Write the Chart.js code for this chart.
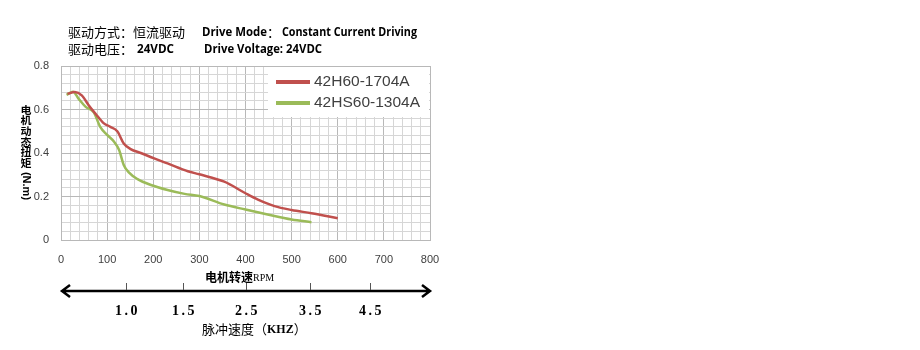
<!DOCTYPE html>
<html>
<head>
<meta charset="utf-8">
<script src="https://cdn.jsdelivr.net/npm/chart.js@4.4.0/dist/chart.umd.min.js"></script>
<style>
  html, body { margin: 0; padding: 0; background: #fff; }
  #wrap { width: 920px; height: 350px; }
</style>
</head>
<body>
<div id="wrap"><canvas id="torqueChart" width="920" height="350"></canvas></div>
<script>
// speed (rpm) and torque (N.m)
const redName = "42H60-1704A";
const redRpm = [14, 30, 45, 60, 75, 93, 107, 122, 136, 151, 173, 202, 231, 275, 300, 354, 400, 427, 463, 500, 543, 600];
const redTorque = [0.672, 0.68, 0.665, 0.62, 0.58, 0.536, 0.52, 0.50, 0.444, 0.418, 0.40, 0.375, 0.352, 0.316, 0.302, 0.268, 0.215, 0.186, 0.156, 0.138, 0.123, 0.10];

const greenName = "42HS60-1304A";
const greenRpm = [12, 26, 38, 53, 71, 85, 100, 115, 126, 136, 147, 166, 195, 231, 268, 300, 354, 400, 448, 500, 543];
const greenTorque = [0.667, 0.682, 0.65, 0.613, 0.587, 0.52, 0.483, 0.452, 0.414, 0.345, 0.311, 0.28, 0.253, 0.23, 0.212, 0.202, 0.163, 0.14, 0.117, 0.094, 0.082];

// lower pulse-speed axis: where each kHz mark sits on the rpm scale
const pulseLabels = ["1.0", "1.5", "2.5", "3.5", "4.5"];
const pulseRpm = [142, 265, 400, 539, 671];

// header pieces: text, left x, width, kind
const titleLines = [
  [["驱动方式：恒流驱动", 68, 120, "cn"], ["Drive Mode", 202, 65, "en"], ["：", 267, 13, "cn"], ["Constant Current Driving", 282, 135, "en"]],
  [["驱动电压：", 68, 67, "cn"], ["24VDC", 137, 37, "en"], ["Drive Voltage: 24VDC", 204, 118, "en"]]
];

function toPoints(xs, ys) {
  return xs.map((x, i) => ({ x: x, y: ys[i] }));
}

const extras = {
  id: "extras",
  afterDraw(chart) {
    const ctx = chart.ctx;
    const xs = chart.scales.x;
    const area = chart.chartArea;
    ctx.save();

    // header text
    ctx.fillStyle = "#000";
    ctx.textBaseline = "middle";
    ctx.textAlign = "left";
    titleLines.forEach((line, li) => {
      const y = 32 + li * 17;
      line.forEach(([txt, x, w, kind]) => {
        ctx.font = kind === "cn" ? "13px 'Noto Sans CJK SC'" : "bold 13px 'Open Sans'";
        ctx.fillText(txt, x, y, w);
      });
    });

    // y axis title: stacked chars then rotated (N.m)
    ctx.textAlign = "center";
    const cn = "电机动态扭矩";
    for (let i = 0; i < cn.length; i++) {
      ctx.save();
      ctx.translate(26, 110 + i * 10.6);
      ctx.scale(1, 0.93);
      ctx.font = "bold 11px 'Noto Sans CJK SC'";
      ctx.fillText(cn[i], 0, 0);
      ctx.restore();
    }
    ctx.save();
    ctx.translate(26, 186);
    ctx.rotate(Math.PI / 2);
    ctx.font = "bold 11px 'Liberation Sans'";
    ctx.fillText("(N.m)", 0, 0);
    ctx.restore();

    // legend box inside plot
    ctx.fillStyle = "#fff";
    ctx.fillRect(268, area.top + 1, area.right - 269, 50);
    [[redName, "#c0504d", 82], [greenName, "#9bbb59", 103]].forEach(([name, col, y]) => {
      ctx.strokeStyle = col;
      ctx.lineWidth = 4;
      ctx.beginPath();
      ctx.moveTo(276, y);
      ctx.lineTo(310, y);
      ctx.stroke();
      ctx.fillStyle = "#404040";
      ctx.font = "15.5px 'Liberation Sans'";
      ctx.textAlign = "left";
      ctx.fillText(name, 314, y);
    });

    // rpm caption
    ctx.fillStyle = "#000";
    ctx.textAlign = "left";
    ctx.font = "bold 12px 'Noto Sans CJK SC'";
    ctx.fillText("电机转速", 205, 277);
    const w = ctx.measureText("电机转速").width;
    ctx.font = "10px 'Liberation Serif'";
    ctx.fillText("RPM", 205 + w, 278);

    // double arrow
    const x0 = xs.getPixelForValue(0) + 1;
    const x1 = xs.getPixelForValue(800);
    const ay = 291;
    ctx.strokeStyle = "#000";
    ctx.lineWidth = 2.5;
    ctx.beginPath();
    ctx.moveTo(x0, ay);
    ctx.lineTo(x1, ay);
    ctx.moveTo(x0 + 8, ay - 6);
    ctx.lineTo(x0, ay);
    ctx.lineTo(x0 + 8, ay + 6);
    ctx.moveTo(x1 - 8, ay - 6);
    ctx.lineTo(x1, ay);
    ctx.lineTo(x1 - 8, ay + 6);
    ctx.stroke();

    ctx.lineWidth = 1;
    ctx.strokeStyle = "#555";
    ctx.font = "bold 14px 'Liberation Serif'";
    ctx.textAlign = "center";
    ctx.fillStyle = "#000";
    if ("letterSpacing" in ctx) ctx.letterSpacing = "2.5px";
    pulseRpm.forEach((r, i) => {
      const px = Math.round(xs.getPixelForValue(r)) + 0.5;
      ctx.beginPath();
      ctx.moveTo(px, ay - 8);
      ctx.lineTo(px, ay - 1);
      ctx.stroke();
      ctx.fillText(pulseLabels[i], px + 1, 311);
    });
    if ("letterSpacing" in ctx) ctx.letterSpacing = "0px";

    ctx.textAlign = "left";
    ctx.font = "13px 'Noto Sans CJK SC'";
    ctx.fillText("脉冲速度（", 202, 329);
    const w2 = ctx.measureText("脉冲速度（").width;
    ctx.font = "bold 12px 'Liberation Serif'";
    ctx.fillText("KHZ", 202 + w2, 330);
    const w3 = ctx.measureText("KHZ").width;
    ctx.font = "13px 'Noto Sans CJK SC'";
    ctx.fillText("）", 202 + w2 + w3, 329);
    ctx.restore();
  }
};

new Chart(document.getElementById("torqueChart"), {
  type: "line",
  data: {
    datasets: [
      {
        label: redName,
        data: toPoints(redRpm, redTorque),
        borderColor: "#c0504d",
        borderWidth: 2.5,
        pointRadius: 0,
        tension: 0.4,
        cubicInterpolationMode: "monotone",
        fill: false
      },
      {
        label: greenName,
        data: toPoints(greenRpm, greenTorque),
        borderColor: "#9bbb59",
        borderWidth: 2.5,
        pointRadius: 0,
        tension: 0.4,
        cubicInterpolationMode: "monotone",
        fill: false
      }
    ]
  },
  options: {
    responsive: false,
    animation: false,
    layout: { padding: { left: 0, top: 66, right: 490, bottom: 0 } },
    plugins: { legend: { display: false }, tooltip: { enabled: false } },
    scales: {
      x: {
        type: "linear",
        min: 0,
        max: 800,
        afterFit: (s) => { s.height = 110; },
        ticks: {
          stepSize: 20,
          autoSkip: false,
          maxRotation: 0,
          padding: 13,
          color: "#404040",
          font: { family: "Liberation Sans", size: 11 },
          callback: (v) => (v % 100 === 0 ? String(v) : "")
        },
        grid: {
          drawTicks: false,
          color: (c) => (c.tick && c.tick.value % 100 === 0 ? "#b8b8b8" : "#d6d6d6"),
          lineWidth: 1
        },
        border: { color: "#b8b8b8" }
      },
      y: {
        min: 0,
        max: 0.8,
        afterFit: (s) => { s.width = 61; },
        ticks: {
          stepSize: 0.04,
          autoSkip: false,
          padding: 12,
          color: "#404040",
          font: { family: "Liberation Sans", size: 11 },
          callback: (v) => {
            const k = Math.round(v * 100);
            return k % 20 === 0 ? (k === 0 ? "0" : (k / 100).toFixed(1)) : "";
          }
        },
        grid: {
          drawTicks: false,
          color: (c) => (c.tick && Math.round(c.tick.value * 100) % 20 === 0 ? "#b8b8b8" : "#d6d6d6"),
          lineWidth: 1
        },
        border: { color: "#b8b8b8" }
      }
    }
  },
  plugins: [extras]
});
</script>
</body>
</html>
